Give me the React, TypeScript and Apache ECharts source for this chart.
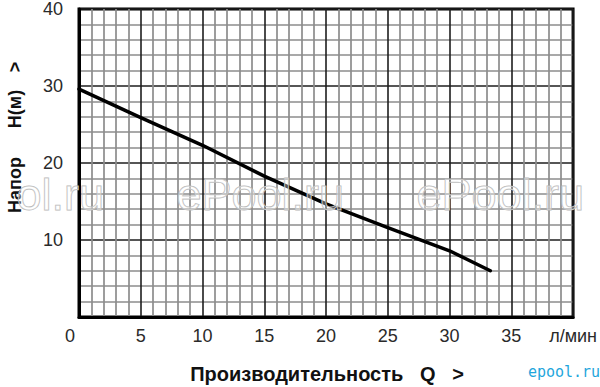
import React, { useEffect, useRef } from "react";
import * as echarts from "echarts";

const flowValues = [0, 5, 10, 15, 20, 25, 30, 33.3];
const headValues = [29.6, 25.9, 22.3, 18.3, 14.7, 11.6, 8.6, 6.0];
const xTickLabels: Record<number, string> = { 0: "0", 5: "5", 10: "10", 15: "15", 20: "20", 25: "25", 30: "30", 35: "35", 40: "л/мин" };
const yTickLabels: Record<number, string> = { 10: "10", 20: "20", 30: "30", 40: "40" };
const xAxisTitle = "Производительность   Q   >";
const yAxisTitleParts = ["Напор", "H(м)", ">"];
const watermarkTexts = ["ol.ru", "ePool.ru", "ePool.ru"];
const logoText = "epool.ru";

export default function App() {
  const ref = useRef<HTMLDivElement>(null);
  useEffect(() => {
    if (!ref.current) return;
    const chart = echarts.init(ref.current, null, { renderer: "svg" });
    const font = "'Liberation Sans', Arial, sans-serif";
    const wmX = [104, 344, 584];
    const wm = watermarkTexts.map((t, i) => ({
      type: "text",
      x: wmX[i],
      y: 194,
      z: 100,
      silent: true,
      style: {
        text: t,
        font: `45px ${font}`,
        lineHeight: 36,
        fill: "rgba(255,255,255,0.35)",
        stroke: "#b8b8b8",
        lineWidth: 1,
        align: "right",
        verticalAlign: "middle",
      },
    }));
    const yTitleY = [185, 109, 67];
    const yTitle = yAxisTitleParts.map((t, i) => ({
      type: "text",
      x: 15,
      y: yTitleY[i],
      rotation: Math.PI / 2,
      style: {
        text: t,
        font: `bold 18px ${font}`,
        fill: "#111",
        align: "center",
        verticalAlign: "middle",
      },
    }));
    chart.setOption({
      animation: false,
      backgroundColor: "#ffffff",
      grid: { left: 79, top: 5, right: 25, bottom: 70, show: true, borderColor: "#000", borderWidth: 3, backgroundColor: "transparent" },
      xAxis: {
        type: "value",
        min: 0,
        max: 40,
        interval: 5,
        axisLine: { show: true, lineStyle: { color: "#000", width: 3 } },
        axisTick: { show: false },
        axisLabel: {
          margin: 10,
          fontSize: 18,
          fontFamily: font,
          color: "#2a2a2a",
          formatter: (v: number) => (v === 0 ? "{z|0}" : xTickLabels[v] ?? ""),
          rich: { z: { fontSize: 18, fontFamily: font, color: "#2a2a2a", padding: [0, 18, 0, 0] } },
        },
        splitLine: { show: true, lineStyle: { color: "#1e1e1e", width: 1.6 } },
        minorTick: { show: false, splitNumber: 5 },
        minorSplitLine: { show: true, lineStyle: { color: "#8c8c8c", width: 1.7 } },
      },
      yAxis: {
        type: "value",
        min: 0,
        max: 40,
        interval: 10,
        axisLine: { show: true, lineStyle: { color: "#000", width: 3 } },
        axisTick: { show: false },
        axisLabel: {
          margin: 16,
          fontSize: 18,
          fontFamily: font,
          color: "#2a2a2a",
          formatter: (v: number) => yTickLabels[v] ?? "",
        },
        splitLine: { show: true, lineStyle: { color: "#1e1e1e", width: 1.6 } },
        minorTick: { show: false, splitNumber: 5 },
        minorSplitLine: { show: true, lineStyle: { color: "#8c8c8c", width: 1.7 } },
      },
      series: [
        {
          type: "line",
          data: flowValues.map((q, i) => [q, headValues[i]]),
          smooth: false,
          symbol: "none",
          lineStyle: { color: "#000", width: 3.5, join: "round", cap: "round" },
          z: 10,
        },
      ],
      graphic: [
        ...wm,
        {
          type: "text",
          x: 327,
          y: 374,
          style: {
            text: xAxisTitle,
            font: `bold 20px ${font}`,
            fill: "#111",
            align: "center",
            verticalAlign: "middle",
          },
        },
        ...yTitle,
        {
          type: "text",
          x: 564,
          y: 372,
          style: {
            text: logoText,
            font: `15px 'DejaVu Sans Mono', monospace`,
            fill: "#1fa6dc",
            align: "center",
            verticalAlign: "middle",
          },
        },
      ],
    });
    return () => chart.dispose();
  }, []);
  return <div ref={ref} style={{ width: 600, height: 387, position: "absolute", left: 0, top: 0 }} />;
}
